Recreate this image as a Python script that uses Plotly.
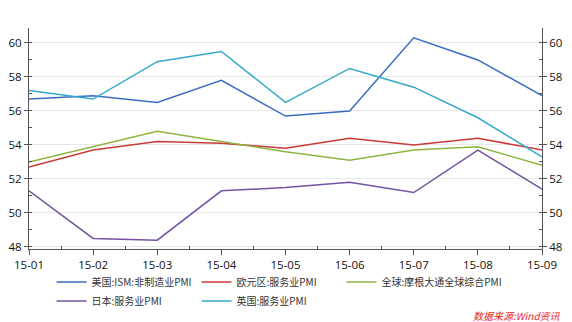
import plotly.graph_objects as go

# Monthly PMI readings, Jan–Sep 2015
months = ["15-01", "15-02", "15-03", "15-04", "15-05", "15-06", "15-07", "15-08", "15-09"]

us_ism_nonmfg = [56.7, 56.9, 56.5, 57.8, 55.7, 56.0, 60.3, 59.0, 56.9]
ez_services = [52.7, 53.7, 54.2, 54.1, 53.8, 54.4, 54.0, 54.4, 53.7]
global_jpm_composite = [53.0, 53.9, 54.8, 54.2, 53.6, 53.1, 53.7, 53.9, 52.8]
japan_services = [51.3, 48.5, 48.4, 51.3, 51.5, 51.8, 51.2, 53.7, 51.4]
uk_services = [57.2, 56.7, 58.9, 59.5, 56.5, 58.5, 57.4, 55.6, 53.3]

# (name, values, colour, legend column)
series = [
    ("美国:ISM:非制造业PMI", us_ism_nonmfg, "#3b6cc0", "legend"),
    ("欧元区:服务业PMI", ez_services, "#c83a36", "legend2"),
    ("全球:摩根大通全球综合PMI", global_jpm_composite, "#8fb43e", "legend3"),
    ("日本:服务业PMI", japan_services, "#7453a3", "legend"),
    ("英国:服务业PMI", uk_services, "#33a9cb", "legend2"),
]

x_idx = list(range(len(months)))

fig = go.Figure()
for name, vals, color, leg in series:
    fig.add_trace(go.Scatter(
        x=x_idx, y=vals, name=name, mode="lines", legend=leg,
        line=dict(color=color, width=1.5),
    ))

y_range = [47.88, 60.88]
tick_font = dict(family="Open Sans, sans-serif", size=11.5, color="#111")

yaxis_common = dict(
    range=y_range, dtick=2, tick0=48,
    ticks="outside", ticklen=4, tickcolor="#555",
    showline=True, linecolor="#555", linewidth=1,
    tickfont=tick_font, zeroline=False,
    minor=dict(dtick=1, tick0=48, ticks="inside", ticklen=3, tickcolor="#555", showgrid=False),
)

legend_font = dict(family="Noto Sans CJK SC, sans-serif", size=10, color="#333")


def legend_column(x):
    return dict(
        orientation="v", x=x, xanchor="left",
        yref="container", y=0.169, yanchor="top",
        font=legend_font, itemwidth=30, tracegroupgap=0,
        bgcolor="rgba(0,0,0,0)",
    )


fig.update_layout(
    width=572, height=322,
    margin=dict(l=29, r=30, t=28, b=73, autoexpand=False),
    paper_bgcolor="white", plot_bgcolor="white",
    showlegend=True,
    xaxis=dict(
        range=[0, len(months) - 1],
        tickmode="array", tickvals=x_idx, ticktext=months,
        ticks="outside", ticklen=5, tickcolor="#555",
        showline=True, linecolor="#555", linewidth=1,
        showgrid=False, zeroline=False, tickfont=tick_font,
        minor=dict(tickmode="array", tickvals=[i + 0.5 for i in x_idx[:-1]],
                   ticks="inside", ticklen=3, tickcolor="#555", showgrid=False),
    ),
    yaxis=dict(**yaxis_common, showgrid=True, gridcolor="#e8e8e8", gridwidth=1, side="left"),
    yaxis2=dict(**yaxis_common, showgrid=False, overlaying="y", side="right", matches="y"),
    legend=legend_column(0.044),
    legend2=legend_column(0.3265),
    legend3=legend_column(0.609),
    annotations=[dict(
        text="<i>数据来源:Wind资讯</i>", xref="paper", yref="paper",
        x=1.04, y=-0.30, xanchor="right", yanchor="middle", showarrow=False,
        font=dict(family="Noto Sans CJK SC, sans-serif", size=10, color="#e8262a"),
    )],
)

# anchor the right-hand mirror axis to the same data scale
fig.add_trace(go.Scatter(x=x_idx, y=us_ism_nonmfg, yaxis="y2", showlegend=False,
                         hoverinfo="skip", line=dict(width=0), mode="lines", opacity=0))

fig.write_html("out.html")
